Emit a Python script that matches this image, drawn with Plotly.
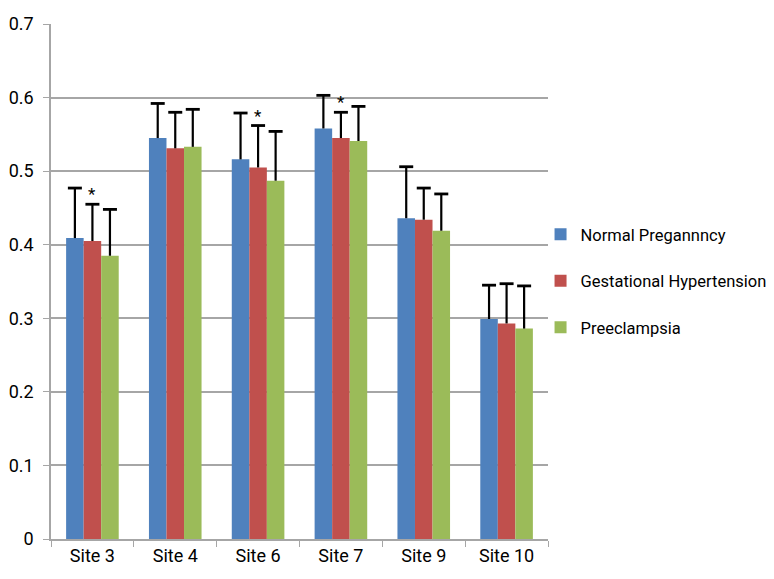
import plotly.graph_objects as go

categories = ["Site 3", "Site 4", "Site 6", "Site 7", "Site 9", "Site 10"]
normal = [0.409, 0.545, 0.516, 0.558, 0.436, 0.299]
normal_err = [0.068, 0.047, 0.063, 0.045, 0.070, 0.046]
gest = [0.405, 0.531, 0.505, 0.545, 0.434, 0.293]
gest_err = [0.050, 0.049, 0.057, 0.035, 0.043, 0.054]
pre = [0.385, 0.533, 0.487, 0.541, 0.419, 0.286]
pre_err = [0.063, 0.051, 0.067, 0.047, 0.050, 0.058]
series_names = ["Normal Pregannncy", "Gestational Hypertension", "Preeclampsia"]
colors = ["#4F81BD", "#C0504D", "#9BBB59"]
star_sites = ["Site 3", "Site 6", "Site 7"]
y_ticks = [0, 0.1, 0.2, 0.3, 0.4, 0.5, 0.6, 0.7]
y_tick_labels = ["0", "0.1", "0.2", "0.3", "0.4", "0.5", "0.6", "0.7"]

FONT = "Roboto, Liberation Sans, sans-serif"
GAP = 0.365

fig = go.Figure()
for i, (name, vals, errs) in enumerate(zip(series_names, [normal, gest, pre], [normal_err, gest_err, pre_err])):
    fig.add_trace(go.Bar(
        x=categories, y=vals, name=name, legendgroup=f"g{i}",
        offsetgroup=str(i), alignmentgroup="a",
        marker=dict(color=colors[i], line=dict(width=0)),
        error_y=dict(type="data", array=errs, symmetric=False, arrayminus=[0]*len(errs),
                     color="black", thickness=2.2, width=0),
    ))
for i, (vals, errs) in enumerate(zip([normal, gest, pre], [normal_err, gest_err, pre_err])):
    fig.add_trace(go.Scatter(
        x=categories, y=[v + e for v, e in zip(vals, errs)], mode="markers",
        offsetgroup=str(i), alignmentgroup="a", showlegend=False, hoverinfo="skip",
        marker=dict(symbol="line-ew", size=10, color="black", line=dict(width=2.8, color="black")),
    ))

for s in star_sites:
    j = categories.index(s)
    fig.add_annotation(x=s, y=gest[j] + gest_err[j], text="*", showarrow=False,
                       yshift=10, font=dict(size=17, color="black", family=FONT))

fig.update_layout(
    width=766, height=571,
    margin=dict(l=43, r=226, t=16, b=40, autoexpand=False),
    paper_bgcolor="white", plot_bgcolor="white",
    barmode="group", bargap=GAP, bargroupgap=0,
    scattermode="group", scattergap=GAP,
    font=dict(family=FONT, size=18, color="black"),
    legend=dict(x=0.985, y=0.625, xanchor="left", yanchor="top",
                font=dict(size=16.5, family=FONT), tracegroupgap=22,
                itemwidth=30, bgcolor="rgba(0,0,0,0)"),
    showlegend=True,
)
fig.update_yaxes(range=[0, 0.7], tickvals=y_ticks, ticktext=y_tick_labels,
                 showgrid=True, gridcolor="#A6A6A6", gridwidth=1.5,
                 showline=True, linecolor="#A6A6A6", linewidth=1.5,
                 ticks="outside", ticklen=6, tickcolor="#A6A6A6",
                 zeroline=False, tickfont=dict(size=18), ticklabelstandoff=6)
fig.update_xaxes(showline=True, linecolor="#A6A6A6", linewidth=1.5,
                 ticks="outside", ticklen=6, tickcolor="#A6A6A6", tickson="boundaries",
                 showgrid=False, tickfont=dict(size=18))

fig.write_html("out.html")
